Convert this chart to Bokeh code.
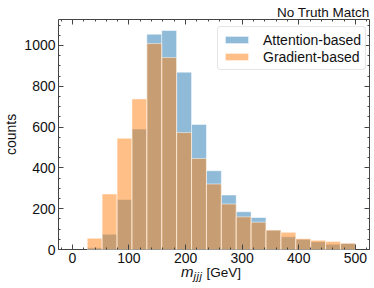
from bokeh.plotting import figure
from bokeh.layouts import column
from bokeh.models import LinearAxis, FixedTicker, Range1d, ColumnDataSource, Title, Div
from bokeh.embed import file_html
from bokeh.resources import INLINE

# ---- data ----
mjjj_edges = [26.3, 52.6, 79.0, 105.3, 131.6, 157.9, 184.2, 210.6, 236.9, 263.2,
              289.5, 315.8, 342.1, 368.5, 394.8, 421.1, 447.4, 473.7, 500.0]
attention_counts = [8, 75, 245, 590, 1055, 1073, 869, 613, 386, 267,
                    185, 157, 95, 62, 50, 38, 26, 30]
gradient_counts = [55, 272, 545, 738, 1009, 941, 573, 446, 321, 223,
                   160, 134, 95, 84, 53, 45, 39, 31]
x_ticks = [0, 100, 200, 300, 400, 500]
y_ticks = [0, 200, 400, 600, 800, 1000]
series_names = ["Attention-based", "Gradient-based"]
title_text = "No Truth Match"
y_label = "counts"

FONT = "Liberation Sans"
FRAME = "#444444"
TEXT = "#111111"

p = figure(width=374, height=271, output_backend="svg", toolbar_location=None,
           x_range=Range1d(-24.5, 525), y_range=Range1d(0, 1127),
           min_border_left=55, min_border_right=5, min_border_top=19,
           min_border_bottom=22, background_fill_color="white",
           border_fill_color="white")
p.grid.visible = False
p.outline_line_color = FRAME
p.outline_line_width = 1

src_a = ColumnDataSource(dict(left=mjjj_edges[:-1], right=mjjj_edges[1:],
                              top=attention_counts))
src_g = ColumnDataSource(dict(left=mjjj_edges[:-1], right=mjjj_edges[1:],
                              top=gradient_counts))
p.quad(left="left", right="right", top="top", bottom=0, source=src_a,
       fill_color="#1f77b4", fill_alpha=0.5, line_color="white", line_alpha=0.5,
       line_width=1, legend_label=series_names[0])
p.quad(left="left", right="right", top="top", bottom=0, source=src_g,
       fill_color="#ff7f0e", fill_alpha=0.5, line_color="white", line_alpha=0.5,
       line_width=1, legend_label=series_names[1])

x_minor = list(range(-20, 521, 20))
y_minor = list(range(0, 1151, 50))

def style_axis(ax):
    ax.axis_line_color = None
    ax.major_tick_in = 5
    ax.major_tick_out = 0
    ax.minor_tick_in = 2
    ax.minor_tick_out = 0
    ax.major_tick_line_color = FRAME
    ax.minor_tick_line_color = FRAME
    ax.major_label_text_font = FONT
    ax.major_label_text_color = TEXT
    ax.major_label_text_font_size = "14px"
    ax.major_label_standoff = 3

p.xaxis.ticker = FixedTicker(ticks=x_ticks, minor_ticks=x_minor)
p.yaxis.ticker = FixedTicker(ticks=y_ticks, minor_ticks=y_minor)
for ax in p.xaxis + p.yaxis:
    style_axis(ax)

p.yaxis.axis_label = y_label
p.yaxis.axis_label_text_font = FONT
p.yaxis.axis_label_text_font_size = "14px"
p.yaxis.axis_label_text_font_style = "normal"
p.yaxis.axis_label_text_color = TEXT
p.yaxis.axis_label_standoff = 2

# mirrored tick marks on top and right (no labels): major positions and minor positions
def tick_only_axis(positions, length):
    ax = LinearAxis(ticker=FixedTicker(ticks=[], minor_ticks=positions))
    ax.axis_line_color = None
    ax.major_tick_line_color = None
    ax.minor_tick_in = length
    ax.minor_tick_out = 0
    ax.minor_tick_line_color = FRAME
    ax.major_label_standoff = 0
    return ax

p.add_layout(tick_only_axis(x_ticks, 5), "above")
p.add_layout(tick_only_axis(x_minor, 2), "above")
p.add_layout(tick_only_axis(y_ticks, 5), "right")
p.add_layout(tick_only_axis(y_minor, 2), "right")

# title
p.add_layout(Title(text=title_text, align="right", text_font=FONT,
                   text_font_size="13.5px", text_font_style="normal",
                   text_color=TEXT, standoff=0, offset=0), "above")

# legend
lg = p.legend[0]
lg.location = (159, 179)
lg.label_text_font = FONT
lg.label_text_font_size = "14px"
lg.label_text_color = TEXT
lg.glyph_width = 29
lg.glyph_height = 9
lg.label_height = 17
lg.label_standoff = 12
lg.padding = 4
lg.spacing = 0
lg.border_line_color = "#cccccc"
lg.border_line_width = 1
lg.background_fill_alpha = 0.8
try:
    lg.border_radius = 4
except Exception:
    pass

# x-axis label with italic m and subscript jjj
xlabel_html = ('<span style="font-family:\'Liberation Sans\';font-size:13.5px;color:#111111;'
               'white-space:nowrap;line-height:17px">'
               '<i style="font-size:15px">m</i>'
               '<sub style="font-style:italic;font-size:11px;letter-spacing:0.6px;'
               'vertical-align:-3px">jjj</sub>'
               ' [GeV]</span>')
xlabel = Div(text=xlabel_html, width=120, height=17, margin=(-8, 0, 0, 181))

layout = column(p, xlabel, spacing=0)
open("out.html", "w").write(file_html(layout, INLINE))
